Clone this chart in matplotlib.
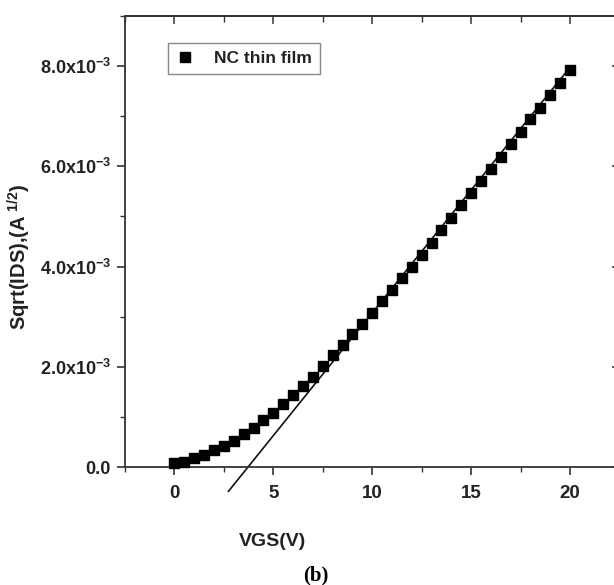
import numpy as np
import matplotlib
matplotlib.use("Agg")
import matplotlib.pyplot as plt
from matplotlib.ticker import MultipleLocator, FuncFormatter

# data (sqrt(IDS) in units of 1e-3 A^1/2)
vgs = [0.0, 0.5, 1.0, 1.5, 2.0, 2.5, 3.0, 3.5, 4.0, 4.5,
       5.0, 5.5, 6.0, 6.5, 7.0, 7.5, 8.0, 8.5, 9.0, 9.5,
       10.0, 10.5, 11.0, 11.5, 12.0, 12.5, 13.0, 13.5, 14.0, 14.5,
       15.0, 15.5, 16.0, 16.5, 17.0, 17.5, 18.0, 18.5, 19.0, 19.5, 20.0]
sqrt_ids = [0.07, 0.10, 0.17, 0.24, 0.33, 0.42, 0.52, 0.65, 0.78, 0.94,
            1.08, 1.26, 1.43, 1.62, 1.80, 2.02, 2.23, 2.44, 2.65, 2.86,
            3.08, 3.31, 3.53, 3.77, 4.00, 4.23, 4.48, 4.72, 4.97, 5.22,
            5.46, 5.71, 5.94, 6.19, 6.44, 6.69, 6.94, 7.17, 7.42, 7.67, 7.92]

# linear fit of the saturation region
fit_slope = 0.49e-3
fit_vth = 3.72
fit_x = np.array([2.73, 20.0])
fit_y = fit_slope * (fit_x - fit_vth)

plt.rcParams['font.family'] = ['Liberation Sans', 'DejaVu Sans']
plt.rcParams['mathtext.fontset'] = 'custom'
plt.rcParams['mathtext.rm'] = 'Liberation Sans:bold'
plt.rcParams['mathtext.it'] = 'Liberation Sans:bold'
plt.rcParams['mathtext.bf'] = 'Liberation Sans:bold'
plt.rcParams['mathtext.default'] = 'rm'

txt = '#222222'

fig = plt.figure(figsize=(6.14, 5.85), dpi=100)
ax = fig.add_axes([125/614, 118/585, 494.5/614, 451/585])

ax.plot(vgs, np.array(sqrt_ids) * 1e-3, 's', color='black', ms=6.5,
        label='NC thin film', clip_on=False, zorder=3)
ax.plot(fit_x, fit_y, '-', color='#111111', lw=1.2, clip_on=False)

ax.set_xlim(-2.5, 22.5)
ax.set_ylim(0, 9e-3)

ax.xaxis.set_major_locator(MultipleLocator(5))
ax.xaxis.set_minor_locator(MultipleLocator(2.5))
ax.yaxis.set_major_locator(MultipleLocator(2e-3))
ax.yaxis.set_minor_locator(MultipleLocator(1e-3))


def yfmt(v, pos):
    if abs(v) < 1e-12:
        return '0.0'
    return '%.1fx10$^{-3}$' % (v * 1e3)


ax.yaxis.set_major_formatter(FuncFormatter(yfmt))
ax.set_xticks([0, 5, 10, 15, 20])

ax.tick_params(axis='both', which='major', direction='out', length=6,
               width=1.2, color='#333333', labelsize=13, labelcolor=txt, pad=4)
ax.tick_params(axis='x', which='major', labelsize=13.5, pad=7)
ax.tick_params(axis='both', which='minor', direction='out', length=3.5,
               width=1.0, color='#333333')
for lab in ax.get_xticklabels() + ax.get_yticklabels():
    lab.set_fontweight('bold')

for s in ax.spines.values():
    s.set_linewidth(1.3)
    s.set_color('#333333')

# top and right axes: ticks pointing inward, no labels
top = ax.secondary_xaxis('top')
top.xaxis.set_major_locator(MultipleLocator(5))
top.xaxis.set_minor_locator(MultipleLocator(2.5))
top.tick_params(which='major', direction='in', length=6, width=1.1,
                color='#333333', labeltop=False)
top.tick_params(which='minor', direction='in', length=4, width=1.0,
                color='#333333')
top.spines['top'].set_linewidth(1.3)
top.spines['top'].set_color('#333333')

right = ax.secondary_yaxis('right')
right.yaxis.set_major_locator(MultipleLocator(2e-3))
right.yaxis.set_minor_locator(MultipleLocator(1e-3))
right.tick_params(which='major', direction='in', length=6, width=1.1,
                  color='#333333', labelright=False)
right.tick_params(which='minor', direction='in', length=4, width=1.0,
                  color='#333333')

ax.set_xlabel('VGS(V)', fontsize=14, fontweight='bold', color=txt)
ax.xaxis.set_label_coords((272 - 125) / 494.5, (467 - 533) / 451)
ax.set_ylabel('Sqrt(IDS),(A$^{\\ 1/2}$)', fontsize=14.5, fontweight='bold',
              color=txt)
ax.yaxis.set_label_coords((33 - 125) / 494.5, (467 - 257) / 451)

leg = ax.legend(loc='upper left', bbox_to_anchor=(0.087, 0.940),
                borderaxespad=0, frameon=True, fancybox=False,
                edgecolor='#888888', framealpha=1, handlelength=1.0,
                handletextpad=1.2, borderpad=0.45,
                prop={'weight': 'bold', 'size': 12.5})
leg.get_frame().set_linewidth(1.0)
for t in leg.get_texts():
    t.set_color(txt)

fig.text(316 / 614, 1 - 575 / 585, '(b)', ha='center', va='center',
         fontsize=15, fontweight='bold', family='Liberation Serif',
         color='black')

fig.savefig('out.png', dpi=100)
